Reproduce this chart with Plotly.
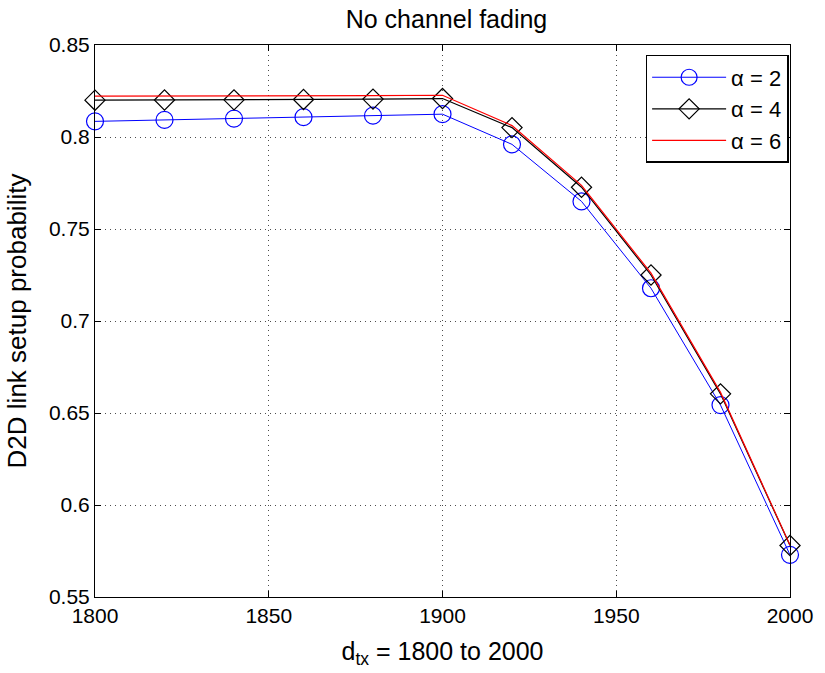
import plotly.graph_objects as go

d_tx = [1800, 1820, 1840, 1860, 1880, 1900, 1920, 1940, 1960, 1980, 2000]
alpha2 = [0.8085, 0.8093, 0.8100, 0.8108, 0.8116, 0.8124, 0.7960, 0.7650, 0.7178, 0.6543, 0.5729]
alpha4 = [0.8200, 0.8201, 0.8202, 0.8204, 0.8206, 0.8209, 0.8051, 0.7727, 0.7250, 0.6604, 0.5780]
alpha6 = [0.8222, 0.8222, 0.8223, 0.8224, 0.8225, 0.8227, 0.8062, 0.7737, 0.7260, 0.6612, 0.5782]

x_ticks = [1800, 1850, 1900, 1950, 2000]
y_ticks = [0.55, 0.6, 0.65, 0.7, 0.75, 0.8, 0.85]
y_ticktext = ["0.55", "0.6", "0.65", "0.7", "0.75", "0.8", "0.85"]

FONT = "Liberation Sans, Arial, sans-serif"

fig = go.Figure()
fig.add_trace(go.Scatter(x=d_tx, y=alpha2, mode="lines+markers", name="α = 2", cliponaxis=False,
                         line=dict(color="#0000ff", width=1),
                         marker=dict(symbol="circle-open", size=17, color="#0000ff", line=dict(width=1.2))))
fig.add_trace(go.Scatter(x=d_tx, y=alpha4, mode="lines+markers", name="α = 4", cliponaxis=False,
                         line=dict(color="#000000", width=1.2),
                         marker=dict(symbol="diamond-open", size=15.5, color="#000000", line=dict(width=1.2))))
fig.add_trace(go.Scatter(x=d_tx, y=alpha6, mode="lines", name="α = 6", cliponaxis=False,
                         line=dict(color="#ff0000", width=1.2)))

axis_common = dict(
    showline=True, linecolor="black", linewidth=1, mirror="ticks",
    ticks="inside", ticklen=6, tickcolor="black",
    showgrid=True, gridcolor="rgba(0,0,0,0.7)", griddash="1px,4px", gridwidth=1,
    zeroline=False, tickfont=dict(family=FONT, size=21, color="black"),
)

fig.update_xaxes(range=[1800, 2000], tickvals=x_ticks,
                 title=dict(text="d<sub>tx</sub> = 1800 to 2000", font=dict(family=FONT, size=25, color="black"), standoff=16),
                 **axis_common)
fig.update_yaxes(range=[0.55, 0.85], tickvals=y_ticks, ticktext=y_ticktext,
                 title=dict(text="D2D link setup probability", font=dict(family=FONT, size=26, color="black"), standoff=14),
                 **axis_common)

fig.update_layout(
    width=825, height=673,
    margin=dict(l=95, r=26, t=45, b=73),
    paper_bgcolor="white", plot_bgcolor="white",
    title=dict(text="No channel fading", x=446.5 / 825, xanchor="center", y=0.984, yanchor="top",
               font=dict(family=FONT, size=25, color="black")),
    showlegend=True,
    legend=dict(x=0.998, xanchor="right", y=0.982, yanchor="top",
                bgcolor="white", bordercolor="black", borderwidth=1.5,
                font=dict(family=FONT, size=22, color="black"),
                itemwidth=74, tracegroupgap=0),
)

fig.write_html("out.html")
